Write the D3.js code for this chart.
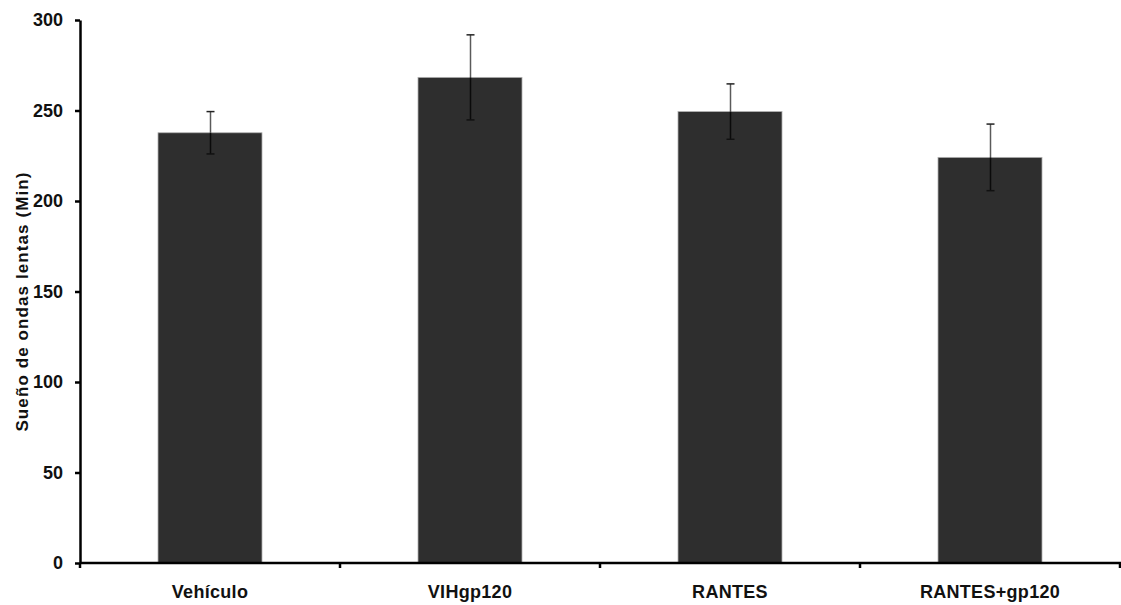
<!DOCTYPE html>
<html>
<head>
<meta charset="utf-8">
<script src="https://cdn.jsdelivr.net/npm/d3@7"></script>
<style>
  body { margin: 0; background: #fff; }
  svg text { font-family: "Liberation Sans", Arial, sans-serif; font-weight: bold; fill: #111; }
</style>
</head>
<body>
<svg id="chart" width="1121" height="605"></svg>
<script>
// chart data
const categories = ["Vehículo", "VIHgp120", "RANTES", "RANTES+gp120"];
const values = [237.7, 268.3, 249.4, 224.1];
const errors = [11.7, 23.5, 15.3, 18.4];
const yTicks = [0, 50, 100, 150, 200, 250, 300];

const margin = { top: 20, right: 0, bottom: 42, left: 80 },
    width = 1121,
    height = 605;

const svg = d3.select('#chart');

const x = d3.scaleBand()
    .domain(categories)
    .range([margin.left, width - 1])
    .paddingInner(0.6)
    .paddingOuter(0.3);

const y = d3.scaleLinear()
    .domain([0, 300])
    .range([height - margin.bottom, margin.top]);

// bars
svg.append('g')
    .selectAll('rect')
    .data(categories)
    .join('rect')
    .attr('x', d => x(d))
    .attr('y', (d, i) => y(values[i]))
    .attr('width', x.bandwidth())
    .attr('height', (d, i) => y(0) - y(values[i]))
    .attr('fill', '#2e2e2e')
    .attr('stroke', '#b0b0b0')
    .attr('stroke-width', 0.8);

// error bars: upper part grey, lower part dark
const err = svg.append('g');
categories.forEach((c, i) => {
    const cx = Math.round(x(c) + x.bandwidth() / 2) + 0.5;
    const top = y(values[i] + errors[i]),
        mid = y(values[i]),
        bot = y(values[i] - errors[i]);
    err.append('line').attr('x1', cx).attr('x2', cx).attr('y1', top).attr('y2', mid)
        .attr('stroke', '#5a5a5a').attr('stroke-width', 1.5);
    err.append('line').attr('x1', cx).attr('x2', cx).attr('y1', mid).attr('y2', bot)
        .attr('stroke', '#0a0a0a').attr('stroke-width', 1.5);
    err.append('line').attr('x1', cx - 4).attr('x2', cx + 4).attr('y1', top).attr('y2', top)
        .attr('stroke', '#222').attr('stroke-width', 1.5);
    err.append('line').attr('x1', cx - 4).attr('x2', cx + 4).attr('y1', bot).attr('y2', bot)
        .attr('stroke', '#111').attr('stroke-width', 1.5);
});

// y axis
const yAxis = svg.append('g')
    .attr('transform', `translate(${margin.left},0)`)
    .call(d3.axisLeft(y).tickValues(yTicks).tickSize(5).tickSizeOuter(0).tickPadding(12));
yAxis.select('.domain').attr('stroke', '#000').attr('stroke-width', 2.5);
yAxis.selectAll('.tick line').attr('stroke', '#000').attr('stroke-width', 2.5);
yAxis.selectAll('.tick text').style('font-size', '18px').attr('fill', '#111');

// x axis with ticks at band boundaries
const step = x.step();
const xg = svg.append('g').attr('transform', `translate(0,${y(0)})`);
xg.append('line')
    .attr('x1', margin.left).attr('x2', width)
    .attr('stroke', '#000').attr('stroke-width', 2.5);
const edges = categories.map(c => x(c) - (step - x.bandwidth()) / 2).concat([width - 1]);
xg.selectAll('.xt')
    .data(edges)
    .join('line')
    .attr('x1', d => d).attr('x2', d => d)
    .attr('y1', 0).attr('y2', 5)
    .attr('stroke', '#000').attr('stroke-width', 2.5);
xg.selectAll('text')
    .data(categories)
    .join('text')
    .attr('x', d => x(d) + x.bandwidth() / 2)
    .attr('y', 35)
    .attr('text-anchor', 'middle')
    .style('font-size', '18px')
    .style('letter-spacing', '0.3px')
    .text(d => d);

// y axis title
svg.append('text')
    .attr('transform', `translate(28,${(y(0) + y(300)) / 2 + 10}) rotate(-90)`)
    .attr('text-anchor', 'middle')
    .style('font-size', '17px')
    .style('letter-spacing', '1.1px')
    .text('Sueño de ondas lentas (Min)');
</script>
</body>
</html>
